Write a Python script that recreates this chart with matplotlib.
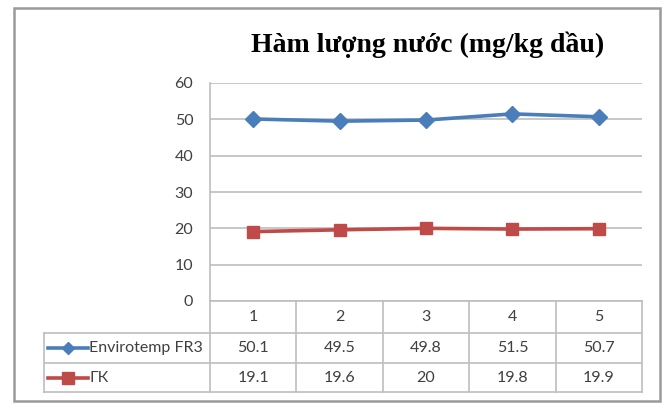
import matplotlib.pyplot as plt
import matplotlib.transforms as mtransforms
from matplotlib.lines import Line2D
from matplotlib.patches import Rectangle

categories = ["1", "2", "3", "4", "5"]
series_names = ["Envirotemp FR3", "ГК"]
fr3 = [50.1, 49.5, 49.8, 51.5, 50.7]
gk = [19.1, 19.6, 20, 19.8, 19.9]
title = "Hàm lượng nước (mg/kg dầu)"

W, H = 664, 409
fig = plt.figure(figsize=(W / 100, H / 100), dpi=100)
fig.patch.set_facecolor("white")

# plot area in pixel coordinates
left, right, top, bottom = 210, 642, 83, 301
ax = fig.add_axes([left / W, (H - bottom) / H, (right - left) / W, (bottom - top) / H])

num_font = ["Lato", "DejaVu Sans"]
txt_color = "#404040"
grid_color = "#BEBEBE"
blue = "#4A7EBB"
red = "#BE4B48"
fs = 11.5

x = list(range(1, len(categories) + 1))
ax.plot(x, fr3, color=blue, lw=2.6, marker="D", ms=8, mfc=blue, mec=blue, zorder=3)
ax.plot(x, gk, color=red, lw=2.6, marker="s", ms=8.5, mfc=red, mec=red, zorder=3)

ax.set_xlim(0.5, len(categories) + 0.5)
ax.set_ylim(0, 60)
ax.set_yticks(range(0, 61, 10))
ax.set_xticks([])
ax.grid(axis="y", color=grid_color, lw=1.2)
ax.set_axisbelow(True)
for s in ["top", "right"]:
    ax.spines[s].set_visible(False)
ax.spines["left"].set_color(grid_color)
ax.spines["left"].set_linewidth(1.2)
ax.spines["bottom"].set_color(grid_color)
ax.spines["bottom"].set_linewidth(1.2)
ax.tick_params(axis="y", length=0, pad=12, labelsize=fs, labelcolor=txt_color)
for lab in ax.get_yticklabels():
    lab.set_family(num_font)

# data table under the plot: x in data units, y in axes units
trans = mtransforms.blended_transform_factory(ax.transData, ax.transAxes)
ph = bottom - top
row_edges = [0, -32 / ph, -62 / ph, -91 / ph]
tab_left = 0.5 + (44 - left) / ((right - left) / len(categories))
xmax = len(categories) + 0.5

def hline(x0, x1, y):
    ax.add_line(Line2D([x0, x1], [y, y], transform=trans, color=grid_color,
                       lw=1.2, clip_on=False))

def vline(xv, y0, y1):
    ax.add_line(Line2D([xv, xv], [y0, y1], transform=trans, color=grid_color,
                       lw=1.2, clip_on=False))

hline(tab_left, xmax, row_edges[1])
hline(tab_left, xmax, row_edges[2])
hline(tab_left, xmax, row_edges[3])
vline(tab_left, row_edges[1], row_edges[3])
for k in range(len(categories) + 1):
    vline(0.5 + k, row_edges[0], row_edges[3])

def mid(i):
    return (row_edges[i] + row_edges[i + 1]) / 2

for xi, c in zip(x, categories):
    ax.text(xi, mid(0), c, transform=trans, ha="center", va="center",
            fontsize=fs, color=txt_color, family=num_font)
for r, vals in enumerate([fr3, gk], start=1):
    for xi, v in zip(x, vals):
        ax.text(xi, mid(r), f"{v:g}", transform=trans, ha="center", va="center",
                fontsize=fs, color=txt_color, family=num_font)

# legend keys inside the table's first column
colw = (right - left) / len(categories)
def px(p):
    return 0.5 + (p - left) / colw

keys = [(blue, "D", 6.5), (red, "s", 8)]
for r, (name, (col, mk, ms)) in enumerate(zip(series_names, keys), start=1):
    y = mid(r)
    ax.add_line(Line2D([px(48), px(88)], [y, y], transform=trans, color=col,
                       lw=2.6, clip_on=False))
    ax.add_line(Line2D([px(68)], [y], transform=trans, marker=mk, ms=ms,
                       mfc=col, mec=col, ls="none", clip_on=False))
    ax.text(px(89), y, name, transform=trans, ha="left", va="center",
            fontsize=fs, color=txt_color, family=num_font)

fig.text(428 / W, 1 - 52 / H, title, ha="center", va="baseline",
         fontsize=20, fontweight="bold", family="Liberation Serif", color="black")

# chart frame
fig.add_artist(Rectangle((14 / W, 1 - 401 / H), (660 - 14) / W, (401 - 8) / H,
                         transform=fig.transFigure, fill=False,
                         edgecolor="#9A9A9A", lw=1.8))

fig.savefig("out.png", dpi=100)
